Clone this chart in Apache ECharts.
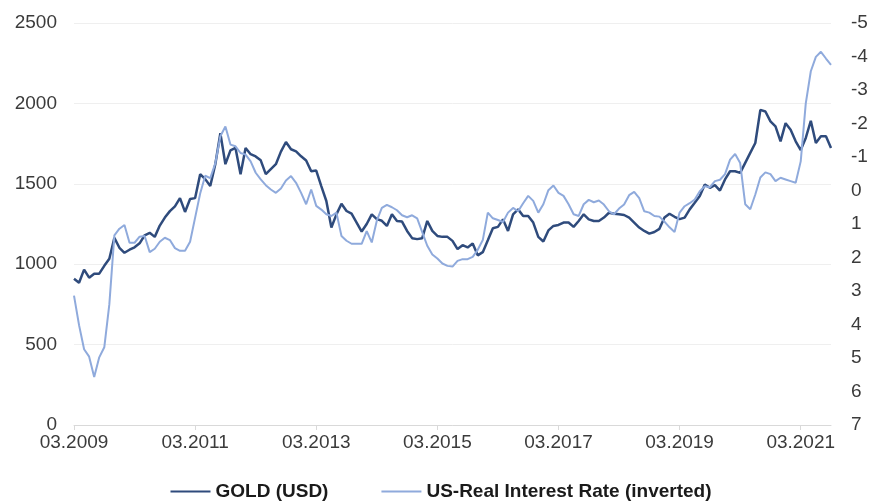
<!DOCTYPE html>
<html>
<head>
    <meta charset="utf-8">
    <title>Gold vs US real interest rate</title>
    <script src="https://cdn.jsdelivr.net/npm/echarts@6/dist/echarts.min.js"></script>
    <style>
        html, body { margin: 0; padding: 0; background: #fff; }
        #chart1 { width: 882px; height: 501px; }
    </style>
</head>
<body>
<div id="chart1"></div>
<script type="text/javascript">
    // monthly, 03.2009 .. 09.2021
    var startYear = 2009;
    var startMonth = 3;
    var monthCount = 151;

    var goldUsd = [
        910, 885, 966, 916, 941, 941, 990, 1034, 1164, 1102,
        1071, 1090, 1105, 1130, 1180, 1195, 1170, 1240, 1290, 1330,
        1360, 1411, 1325, 1405, 1411, 1560, 1529, 1486, 1622, 1814,
        1622, 1708, 1723, 1560, 1723, 1684, 1670, 1646, 1560, 1591,
        1622, 1700, 1760, 1715, 1702, 1671, 1645, 1578, 1582, 1486,
        1393, 1228, 1310, 1376, 1331, 1314, 1259, 1203, 1250, 1310,
        1280, 1270, 1238, 1310, 1269, 1265, 1207, 1162, 1156, 1162,
        1269, 1207, 1176, 1170, 1170, 1145, 1094, 1118, 1104, 1128,
        1055, 1075, 1149, 1224, 1232, 1279, 1207, 1310, 1341, 1300,
        1300, 1259, 1170, 1141, 1210, 1238, 1244, 1259, 1259, 1232,
        1269, 1310, 1279, 1269, 1269, 1290, 1320, 1314, 1310, 1306,
        1290, 1259, 1228, 1207, 1190, 1200, 1220, 1290, 1314, 1295,
        1280, 1290, 1341, 1382, 1424, 1496, 1475, 1492, 1458, 1527,
        1578, 1578, 1568, 1630, 1692, 1754, 1960, 1950, 1888, 1857,
        1764, 1877, 1836, 1764, 1710, 1785, 1892, 1754, 1795, 1795,
        1723
    ];

    // US real interest rate in %, drawn on an inverted right axis
    var realRate = [
        3.14, 4.02, 4.74, 4.96, 5.57, 4.98, 4.68, 3.40, 1.34, 1.14,
        1.03, 1.56, 1.56, 1.38, 1.36, 1.84, 1.74, 1.53, 1.41, 1.48,
        1.72, 1.80, 1.80, 1.53, 0.81, 0.09, -0.44, -0.37, -0.81, -1.62,
        -1.91, -1.37, -1.32, -1.12, -1.07, -0.87, -0.53, -0.33, -0.16, -0.03,
        0.07, -0.06, -0.30, -0.43, -0.23, 0.07, 0.41, -0.03, 0.46, 0.57,
        0.71, 0.76, 0.66, 1.36, 1.50, 1.59, 1.59, 1.59, 1.21, 1.55,
        0.90, 0.52, 0.43, 0.50, 0.59, 0.74, 0.80, 0.74, 0.83, 1.24,
        1.65, 1.91, 2.03, 2.18, 2.25, 2.27, 2.10, 2.05, 2.05, 1.98,
        1.77, 1.48, 0.66, 0.83, 0.88, 0.94, 0.66, 0.52, 0.62, 0.38,
        0.16, 0.31, 0.66, 0.41, -0.01, -0.15, 0.07, 0.16, 0.41, 0.71,
        0.76, 0.41, 0.28, 0.35, 0.30, 0.42, 0.62, 0.71, 0.54, 0.42,
        0.14, 0.04, 0.23, 0.62, 0.66, 0.76, 0.78, 0.93, 1.10, 1.24,
        0.66, 0.47, 0.38, 0.27, 0.02, -0.13, -0.10, -0.28, -0.32, -0.49,
        -0.92, -1.09, -0.82, 0.41, 0.56, 0.12, -0.39, -0.54, -0.49, -0.28,
        -0.38, -0.33, -0.28, -0.23, -0.87, -2.60, -3.56, -3.99, -4.14, -3.94,
        -3.75
    ];

    var seriesNames = ['GOLD (USD)', 'US-Real Interest Rate (inverted)'];

    var months = [];
    for (var i = 0; i < monthCount; i++) {
        var mm = (startMonth - 1 + i) % 12 + 1;
        var yy = startYear + Math.floor((startMonth - 1 + i) / 12);
        months.push((mm < 10 ? '0' + mm : '' + mm) + '.' + yy);
    }

    var axisFont = {
        fontFamily: 'Liberation Sans, Arial, sans-serif',
        fontSize: 19,
        color: '#3b3b3b'
    };

    var myChart = echarts.init(document.getElementById('chart1'));
    myChart.setOption({
        animation: false,
        backgroundColor: '#ffffff',
        grid: { left: 74, right: 51, top: 23, bottom: 76, containLabel: false },
        legend: {
            data: seriesNames,
            left: 'center',
            top: 477,
            icon: 'rect',
            itemWidth: 40,
            itemHeight: 2,
            itemGap: 53,
            textStyle: {
                fontFamily: 'Liberation Sans, Arial, sans-serif',
                fontSize: 19,
                fontWeight: 'bold',
                color: '#1a1a1a'
            }
        },
        xAxis: {
            type: 'category',
            data: months,
            boundaryGap: false,
            axisLine: { lineStyle: { color: '#d9d9d9', width: 1 } },
            axisTick: { interval: 23, length: 5, lineStyle: { color: '#d9d9d9' } },
            axisLabel: Object.assign({ interval: 23, margin: 8 }, axisFont),
            splitLine: { show: false }
        },
        yAxis: [{
            type: 'value',
            min: 0,
            max: 2500,
            interval: 500,
            axisLine: { show: false },
            axisTick: { show: false },
            axisLabel: Object.assign({
                margin: 17,
                formatter: function (v) { return String(v); }
            }, axisFont),
            splitLine: { lineStyle: { color: '#efefef', width: 1 } }
        }, {
            type: 'value',
            inverse: true,
            min: -5,
            max: 7,
            interval: 1,
            position: 'right',
            axisLine: { show: false },
            axisTick: { show: false },
            axisLabel: Object.assign({ margin: 20 }, axisFont),
            splitLine: { show: false }
        }],
        series: [{
            name: seriesNames[0],
            type: 'line',
            yAxisIndex: 0,
            data: goldUsd,
            showSymbol: false,
            symbol: 'none',
            color: '#2f4b7c',
            lineStyle: { color: '#2f4b7c', width: 2.5 }
        }, {
            name: seriesNames[1],
            type: 'line',
            yAxisIndex: 1,
            data: realRate,
            showSymbol: false,
            symbol: 'none',
            color: '#8faadc',
            lineStyle: { color: '#8faadc', width: 2 }
        }]
    });
</script>
</body>
</html>
